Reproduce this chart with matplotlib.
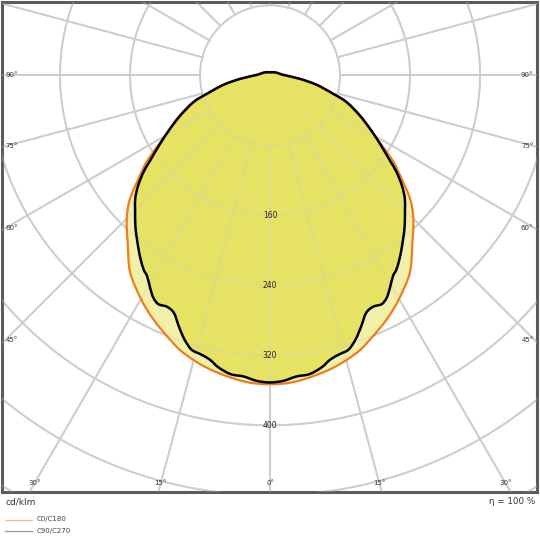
import numpy as np
import matplotlib
matplotlib.use('Agg')
import matplotlib.pyplot as plt
from matplotlib.lines import Line2D
from matplotlib.path import Path
from matplotlib.patches import PathPatch

# Lichtstärkeverteilung (cd/klm) über den Ausstrahlwinkel gamma (Grad, 0 = Nadir)
gamma_c0 = [0, 5, 11.5, 17, 20.7, 25.6, 30, 35.4, 40.4, 44.9, 48.5, 52, 55, 58.1, 61.9,
            65.9, 70.7, 73.7, 78.5, 83.3, 92, 106, 131, 180]
r_c0 = [353, 351, 343, 333, 323, 309, 295, 276, 251, 232, 214, 190, 172, 150, 128.5,
        111, 91.5, 74, 53, 33, 14, 8.5, 4.5, 3]

gamma_c90 = [0, 2.5, 5, 7.5, 10, 12, 14, 16, 18, 20, 22, 24, 26, 27.7, 29.5, 31.5, 33,
             35, 37, 39, 41, 43, 45, 47.5, 50, 52.6, 54.6, 58.1, 61.9, 65.9, 70.7, 73.7,
             78.5, 83.3, 92, 106, 131, 180]
r_c90 = [351, 349.5, 345.5, 344.5, 339, 332, 328.5, 326, 317, 305, 293, 289.5, 291, 287,
         278.5, 269, 265, 257.5, 249.5, 241.5, 234, 226, 218, 209, 197, 182, 168, 148,
         129.6, 112.6, 93, 75.4, 54.5, 34.5, 15.2, 9.5, 5.5, 3.5]

ring_values = [80, 160, 240, 320, 400, 480, 560]
ring_labels = [160, 240, 320, 400]
angle_labels_side = [90, 75, 60, 45]
angle_labels_bottom = [30, 15, 0]
legend_names = ['C0/C180', 'C90/C270']
eta_text = 'η = 100 %'
unit_text = 'cd/klm'


def kontur(gamma, r):
    # C-Ebene rechts (0..180) und gespiegelt links, geschlossen ohne doppelte Punkte
    g = np.radians(np.array(gamma, dtype=float))
    r = np.array(r, dtype=float)
    x_re = r * np.sin(g)
    y_re = -r * np.cos(g)
    x = np.concatenate([x_re, -x_re[-2:0:-1]])
    y = np.concatenate([y_re, y_re[-2:0:-1]])
    return x, y


def glatter_pfad(x, y):
    # geschlossene Catmull-Rom-Kurve als Bezier-Pfad
    p = np.column_stack([x, y])
    n = len(p)
    verts = [p[0]]
    codes = [Path.MOVETO]
    for i in range(n):
        p0, p1, p2, p3 = p[i - 1], p[i], p[(i + 1) % n], p[(i + 2) % n]
        verts += [p1 + (p2 - p0) / 6, p2 - (p3 - p1) / 6, p2]
        codes += [Path.CURVE4] * 3
    return Path(verts, codes)


fig = plt.figure(figsize=(5.4, 5.4), dpi=100)
ax = fig.add_axes([2 / 540, 48 / 540, 535 / 540, 490 / 540])
xmin, xmax = -306.3, 305.1
ymin, ymax = -476.2, 83.8
ax.set_xlim(xmin, xmax)
ax.set_ylim(ymin, ymax)
ax.set_xticks([])
ax.set_yticks([])
for s in ax.spines.values():
    s.set_color('#5c5c5c')
    s.set_linewidth(2.2)

grau = '#cdcdcd'
t = np.linspace(0, 2 * np.pi, 400)


def gitter(alpha, z):
    for rv in ring_values:
        ax.plot(rv * np.cos(t), rv * np.sin(t), color=grau, lw=1.4, alpha=alpha, zorder=z)
    for w in range(0, 360, 15):
        a = np.radians(w)
        ax.plot([80 * np.sin(a), 900 * np.sin(a)], [-80 * np.cos(a), -900 * np.cos(a)],
                color=grau, lw=1.4, alpha=alpha, zorder=z)


gitter(1.0, 1)

pfad_c0 = glatter_pfad(*kontur(gamma_c0, r_c0))
pfad_c90 = glatter_pfad(*kontur(gamma_c90, r_c90))
ax.add_patch(PathPatch(pfad_c0, facecolor='#f2efa8', edgecolor='none', zorder=2))
ax.add_patch(PathPatch(pfad_c90, facecolor='#e6e264', edgecolor='none', zorder=2.5))
gitter(0.3, 3)
ax.add_patch(PathPatch(pfad_c0, fill=False, edgecolor='#f07d1c', lw=1.6, zorder=4))
ax.add_patch(PathPatch(pfad_c90, fill=False, edgecolor='black', lw=1.8, zorder=5))

# Beschriftungen
for rv in ring_labels:
    ax.text(0, -rv, str(rv), fontsize=5.5, ha='center', va='center', color='#222222', zorder=6)

for w in angle_labels_side:
    a = np.radians(w)
    y = -(abs(xmin) - 4) / np.tan(a) if w != 90 else 0
    ax.text(xmin + 4, y, f'{w}°', fontsize=5, ha='left', va='center', color='#333333', zorder=6)
    ax.text(xmax - 4, y, f'{w}°', fontsize=5, ha='right', va='center', color='#333333', zorder=6)

y_b = ymin + 10
for w in angle_labels_bottom:
    a = np.radians(w)
    xb = abs(y_b) * np.tan(a)
    ax.text(-xb, y_b, f'{w}°', fontsize=5, ha='center', va='center', color='#333333', zorder=6)
    if w != 0:
        ax.text(xb, y_b, f'{w}°', fontsize=5, ha='center', va='center', color='#333333', zorder=6)

fig.text(6 / 540, 1 - 502 / 540, unit_text, fontsize=6.5, ha='left', va='center', color='#333333')
fig.text(535 / 540, 1 - 502 / 540, eta_text, fontsize=6.3, ha='right', va='center', color='#333333')

# Legende von Hand
legend_colors = ['#f6b896', '#9a9a9a']
legend_y = [519.5, 531]
for name, col, yp in zip(legend_names, legend_colors, legend_y):
    fy = 1 - yp / 540
    fig.add_artist(Line2D([5 / 540, 32 / 540], [fy, fy], color=col, lw=0.9,
                          transform=fig.transFigure))
    fig.text(37 / 540, fy, name, fontsize=5, ha='left', va='center', color='#444444')

fig.savefig('out.png', dpi=100)
